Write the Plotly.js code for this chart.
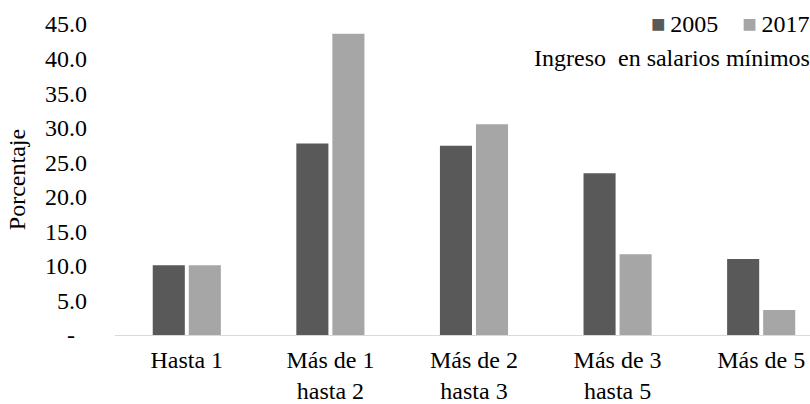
<!DOCTYPE html>
<html>
<head>
<meta charset="utf-8">
<script src="https://cdn.plot.ly/plotly-3.0.1.min.js"></script>
<style>html,body{margin:0;padding:0;background:#fff;}#chart{width:810px;height:404px;}</style>
</head>
<body>
<div id="chart"></div>
<script>
const categories = ["Hasta 1", "Más de 1<br>hasta 2", "Más de 2<br>hasta 3", "Más de 3<br>hasta 5", "Más de 5"];
const seriesNames = ["2005", "2017"];
const values2005 = [10.1, 27.7, 27.4, 23.4, 11.0];
const values2017 = [10.1, 43.6, 30.5, 11.7, 3.6];
const tickVals = [0, 5, 10, 15, 20, 25, 30, 35, 40, 45];
const tickText = ["-\u00a0\u00a0", "5.0", "10.0", "15.0", "20.0", "25.0", "30.0", "35.0", "40.0", "45.0"];
const barColors = ["#595959", "#a6a6a6"];

const FF = "Liberation Serif, serif";
const FS = 24;
const data = [
  {type: "bar", name: seriesNames[0], x: [0,1,2,3,4], y: values2005, marker: {color: barColors[0]}, hoverinfo: "skip"},
  {type: "bar", name: seriesNames[1], x: [0,1,2,3,4], y: values2017, marker: {color: barColors[1]}, hoverinfo: "skip"}
];
const layout = {
  width: 810, height: 404,
  margin: {l: 115, r: 0, t: 24, b: 69},
  paper_bgcolor: "#fff", plot_bgcolor: "#fff",
  font: {family: FF, size: FS, color: "#000"},
  barmode: "group",
  bargap: 0.498,
  bargroupgap: 0.11,
  showlegend: false,
  xaxis: {
    range: [-0.5, 4.34], tickvals: [0,1,2,3,4], ticktext: categories,
    showgrid: false, zeroline: false, showline: true, linecolor: "#d9d9d9", linewidth: 1,
    ticks: "", tickfont: {family: FF, size: FS, color: "#000"}, ticklabelstandoff: 3,
    automargin: false, fixedrange: true
  },
  yaxis: {
    range: [0, 45], tickvals: tickVals, ticktext: tickText,
    showgrid: false, zeroline: false, showline: false, ticks: "",
    tickfont: {family: FF, size: FS, color: "#000"}, ticklabelstandoff: 27, automargin: false,
    title: {text: "Porcentaje", font: {family: FF, size: FS, color: "#000"}, standoff: 12},
    fixedrange: true
  },
  annotations: [
    {
      text: "<span style='color:" + barColors[0] + "'>■</span>\u2009" + seriesNames[0] +
            "\u00a0\u00a0\u00a0\u00a0<span style='color:" + barColors[1] + "'>■</span>\u2009" + seriesNames[1],
      xref: "paper", yref: "paper", x: 1, xanchor: "right", y: 1, yanchor: "middle",
      showarrow: false, xshift: 2, font: {family: FF, size: FS, color: "#000"}
    },
    {
      text: "Ingreso\u00a0 en salarios mínimos", xref: "paper", yref: "paper",
      x: 1, xanchor: "right", y: 0.891, yanchor: "middle", showarrow: false, xshift: 2,
      font: {family: FF, size: FS, color: "#000"}
    }
  ]
};
Plotly.newPlot("chart", data, layout, {displayModeBar: false, staticPlot: true});
</script>
</body>
</html>
